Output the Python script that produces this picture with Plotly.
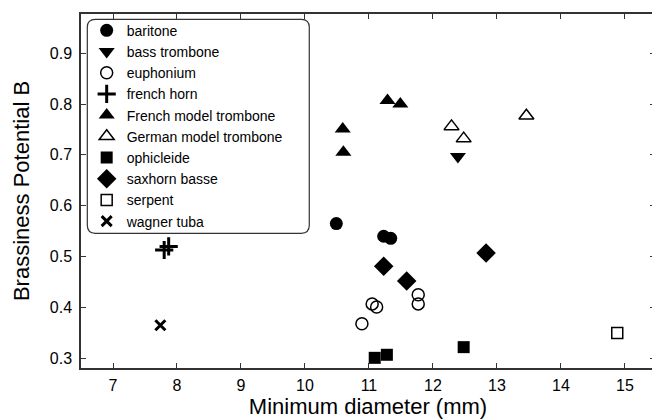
import plotly.graph_objects as go

# data (x: minimum diameter mm, y: brassiness potential B)
baritone_x = [10.49, 11.23, 11.34]
baritone_y = [0.565, 0.540, 0.536]
bass_trombone_x = [12.39]
bass_trombone_y = [0.697]
euphonium_x = [11.05, 11.12, 10.89, 11.77, 11.77]
euphonium_y = [0.407, 0.401, 0.368, 0.425, 0.407]
french_horn_x = [7.80, 7.87]
french_horn_y = [0.513, 0.520]
french_trombone_x = [11.29, 11.49, 10.59, 10.60]
french_trombone_y = [0.807, 0.800, 0.751, 0.705]
german_trombone_x = [12.29, 12.48, 13.46]
german_trombone_y = [0.756, 0.732, 0.777]
ophicleide_x = [11.09, 11.28, 12.48]
ophicleide_y = [0.301, 0.307, 0.322]
saxhorn_x = [12.83, 11.23, 11.59]
saxhorn_y = [0.507, 0.481, 0.452]
serpent_x = [14.88]
serpent_y = [0.350]
wagner_x = [7.74]
wagner_y = [0.365]

x_ticks = [7, 8, 9, 10, 11, 12, 13, 14, 15]
y_ticks = [0.3, 0.4, 0.5, 0.6, 0.7, 0.8, 0.9]

series = [
    ("baritone", baritone_x, baritone_y, "circle", 13, 0),
    ("bass trombone", bass_trombone_x, bass_trombone_y, "triangle-down", 14, 0),
    ("euphonium", euphonium_x, euphonium_y, "circle-open", 12, 1.5),
    ("french horn", french_horn_x, french_horn_y, "cross-thin", 13, 3),
    ("French model trombone", french_trombone_x, french_trombone_y, "triangle-up", 14, 0),
    ("German model trombone", german_trombone_x, german_trombone_y, "triangle-up-open", 13, 1.5),
    ("ophicleide", ophicleide_x, ophicleide_y, "square", 12, 0),
    ("saxhorn basse", saxhorn_x, saxhorn_y, "diamond", 15, 0),
    ("serpent", serpent_x, serpent_y, "square-open", 11, 1.5),
    ("wagner tuba", wagner_x, wagner_y, "x-thin", 10, 3),
]

fig = go.Figure()
for name, xs, ys, sym, size, lw in series:
    fig.add_trace(go.Scatter(
        x=xs, y=ys, mode="markers", name=name,
        marker=dict(symbol=sym, size=size, color="black",
                    line=dict(color="black", width=lw)),
    ))

axis_common = dict(
    showline=True, linecolor="#333", linewidth=1.5, mirror="ticks",
    ticks="inside", ticklen=5, tickcolor="#333", tickwidth=1.2,
    showgrid=False, zeroline=False, automargin=False,
    tickfont=dict(size=16, color="black"),
)

# legend frame geometry (paper coords)
lx0, lx1, ly0, ly1 = 0.011, 0.3977, 0.3805, 0.985
rx, ry = 0.014, 0.0226
frame_path = (
    f"M {lx0+rx},{ly1} L {lx1-rx},{ly1} Q {lx1},{ly1} {lx1},{ly1-ry} "
    f"L {lx1},{ly0+ry} Q {lx1},{ly0} {lx1-rx},{ly0} L {lx0+rx},{ly0} "
    f"Q {lx0},{ly0} {lx0},{ly0+ry} L {lx0},{ly1-ry} Q {lx0},{ly1} {lx0+rx},{ly1} Z"
)

# the page adds an 8px body margin, so the figure is sized to fit the window
fig.update_layout(
    width=652, height=412,
    margin=dict(l=73, r=5, t=6, b=52),
    paper_bgcolor="white", plot_bgcolor="white",
    font=dict(family="Liberation Sans, Arial, sans-serif", color="black"),
    xaxis=dict(range=[6.5, 15.47], tickvals=x_ticks, ticklabelstandoff=2,
               title=dict(text="Minimum diameter (mm)", font=dict(size=22), standoff=2),
               **axis_common),
    yaxis=dict(range=[0.281, 0.977], tickvals=y_ticks, tickformat=".1f",
               ticklabelstandoff=4,
               title=dict(text="Brassiness Potential B", font=dict(size=22), standoff=14),
               **axis_common),
    legend=dict(x=0.0099, y=0.998, xanchor="left", yanchor="top",
                bgcolor="rgba(0,0,0,0)", borderwidth=0,
                font=dict(size=14, color="black"), tracegroupgap=0,
                itemwidth=30),
    showlegend=True,
    shapes=[dict(
        type="path", xref="paper", yref="paper", path=frame_path,
        line=dict(color="#333", width=1.2), fillcolor="white", layer="below",
    )],
)

fig.write_html("out.html")
